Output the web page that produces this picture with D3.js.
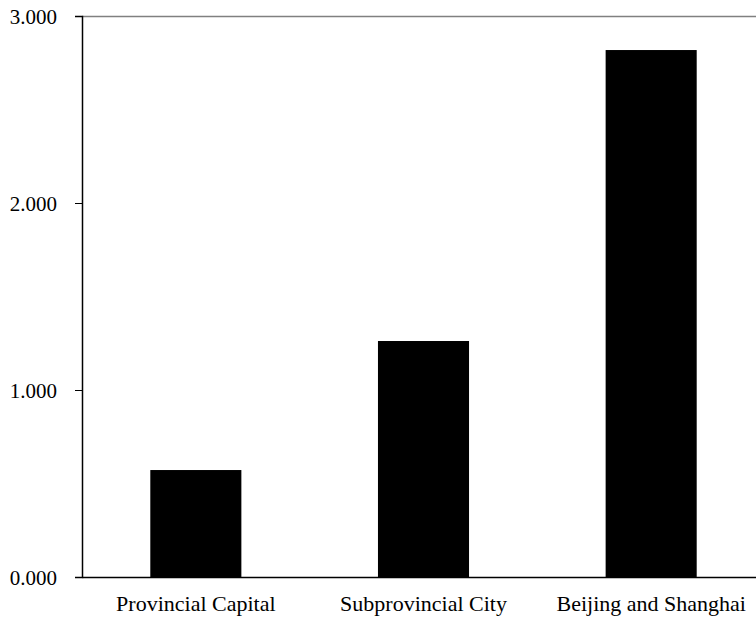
<!DOCTYPE html>
<html>
<head>
<meta charset="utf-8">
<script src="https://cdn.jsdelivr.net/npm/d3@7"></script>
<style>
  body { margin: 0; background: #fff; }
  text { font-family: "Liberation Serif", "Times New Roman", serif; fill: #000; }
</style>
</head>
<body>
<script>
// Chart data
var categories = ["Provincial Capital", "Subprovincial City", "Beijing and Shanghai"];
var values = [0.572, 1.262, 2.818];
var yTicks = [0, 1, 2, 3];

// Set dimensions and margins
var margin = {top: 16, right: -9, bottom: 42, left: 82},
    width = 756 - margin.left - margin.right,
    height = 619 - margin.top - margin.bottom;

var svg = d3.select("body").append("svg")
    .attr("width", 756)
    .attr("height", 619)
  .append("g")
    .attr("transform", "translate(" + margin.left + "," + margin.top + ")");

var x = d3.scaleBand()
    .domain(categories)
    .range([0, width])
    .paddingInner(0.6)
    .paddingOuter(0.3);

var y = d3.scaleLinear()
    .domain([0, 3])
    .range([height, 0]);

// Top border line
svg.append("line")
    .attr("x1", 0)
    .attr("x2", width)
    .attr("y1", 0.5)
    .attr("y2", 0.5)
    .style("stroke", "#808080")
    .style("stroke-width", "1.5px");

// Bars
svg.selectAll(".bar")
    .data(values)
    .enter()
    .append("rect")
    .attr("class", "bar")
    .attr("x", function(d, i) { return x(categories[i]); })
    .attr("width", x.bandwidth())
    .attr("y", function(d) { return y(d); })
    .attr("height", function(d) { return height - y(d); })
    .style("fill", "#000");

// Y axis
var yAxis = svg.append("g")
    .call(d3.axisLeft(y)
      .tickValues(yTicks)
      .tickFormat(d3.format(".3f"))
      .tickSize(7)
      .tickPadding(18));
yAxis.select(".domain").style("stroke", "#000").style("stroke-width", "1.5px");
yAxis.selectAll(".tick line").style("stroke", "#000");
yAxis.selectAll("text").style("font-size", "21px").attr("dy", "0.35em");

// X axis
var xAxis = svg.append("g")
    .attr("transform", "translate(0," + height + ")")
    .call(d3.axisBottom(x).tickSize(0).tickPadding(18));
xAxis.select(".domain").style("stroke", "#000").style("stroke-width", "1.5px");
xAxis.selectAll("text").style("font-size", "22px");
</script>
</body>
</html>
